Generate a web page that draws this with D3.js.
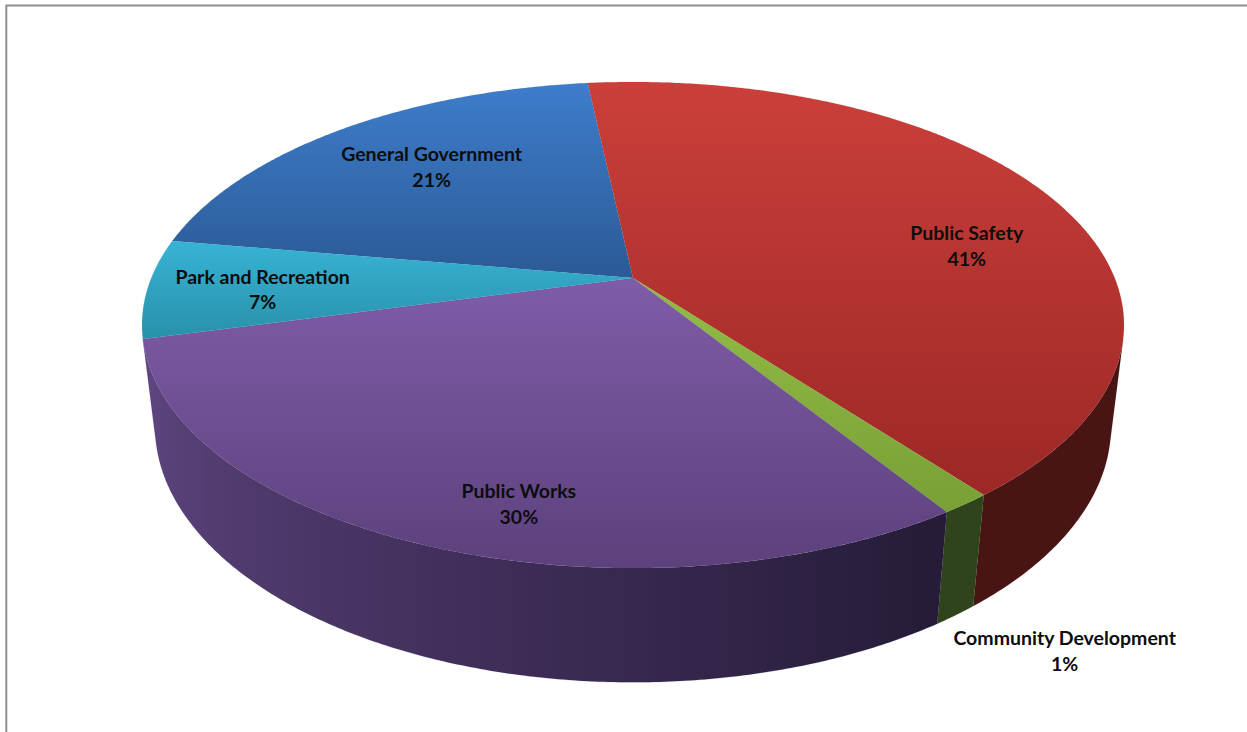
<!DOCTYPE html>
<html>
<head>
<meta charset="utf-8">
<script src="https://cdn.jsdelivr.net/npm/d3@7"></script>
<style>
  html, body { margin: 0; padding: 0; background: #ffffff; overflow: hidden; }
  text { font-family: "Lato", "Open Sans", sans-serif; font-weight: 700; }
</style>
</head>
<body>
<svg id="chart" width="1247" height="732"></svg>
<script>
// Budget share by department (percent of total)
const categories = ["General Government", "Public Safety", "Community Development", "Public Works", "Park and Recreation"];
const shares = [20.6, 41.2, 1.4, 30.2, 6.6];

// Top-face gradient colours (light at top, darker at bottom) and side-wall colours
const topLight = ["#3e7dcc", "#cb3f3a", "#93bd46", "#7f5ca8", "#38b3d5"];
const topDark  = ["#2b5a95", "#9c2826", "#78a036", "#5c417c", "#2891aa"];
const sideDark  = ["#1f3f69", "#481514", "#2f441b", "#261c39", "#1c5f70"];
const sideLight = ["#1f3f69", "#4b1716", "#2f441b", "#5e4580", "#1c5f70"];

// Label placement: fraction of radius, angular nudge (deg), and which face
const labelSpots = [
  { r: 0.694, nudge: 2.0,  face: "top" },
  { r: 0.725, nudge: 11.2, face: "top" },
  { r: 1.191, nudge: -4.1, face: "bottom" },
  { r: 0.838, nudge: -7.5, face: "top" },
  { r: 0.763, nudge: -1.3, face: "top" }
];

const width = 1247, height = 732;
const svg = d3.select("#chart");
const defs = svg.append("defs");

// Chart-area frame
svg.append("rect")
  .attr("x", 6.3).attr("y", 5.5)
  .attr("width", width + 20).attr("height", height + 20)
  .attr("fill", "none").attr("stroke", "#8f8f8f").attr("stroke-width", 2);

// Perspective camera looking down on a flat cylinder
const tilt = Math.asin(0.4857);
const camDist = 1, radius = 0.2214, thickness = 0.054, focal = 2175.7;
const cx = 633, cy = 278;
const rad = d => d * Math.PI / 180;
const deg = r => r * 180 / Math.PI;

// angle a: clockwise from the far side; h: height (0 = top face)
function project(a, r, h) {
  const x = r * Math.sin(a), z = -r * Math.cos(a);
  const d = camDist - (h * Math.sin(tilt) + z * Math.cos(tilt));
  return [cx + focal * x / d, cy - focal * (h * Math.cos(tilt) - z * Math.sin(tilt)) / d];
}

const startDeg = -80.6;
const pie = d3.pie().sort(null).value(d => d)
  .startAngle(rad(startDeg)).endAngle(rad(startDeg + 360));
const arcs = pie(shares);

const line = d3.line();

// Outer wall is visible where its normal faces the camera
const visMin = Math.acos(-radius / (camDist * Math.cos(tilt)));
const visMax = 2 * Math.PI - visMin;

const walls = svg.append("g").attr("class", "walls");
arcs.forEach((s, i) => {
  const a0 = Math.max(s.startAngle, visMin), a1 = Math.min(s.endAngle, visMax);
  if (a1 <= a0) return;
  const n = Math.max(2, Math.ceil(deg(a1 - a0) / 0.5));
  const angles = d3.range(n + 1).map(k => a0 + (a1 - a0) * k / n);
  const topRim = angles.map(a => project(a, radius, 0));
  const botRim = angles.map(a => project(a, radius, -thickness)).reverse();

  // horizontal shading: brighter toward the left-hand side of the cylinder
  const shade = d3.interpolateRgb(sideDark[i], sideLight[i]);
  const xs = topRim.map(p => p[0]);
  const xMin = d3.min(xs), xMax = d3.max(xs);
  const gid = "wallGrad" + i;
  const g = defs.append("linearGradient").attr("id", gid)
    .attr("gradientUnits", "userSpaceOnUse")
    .attr("x1", xMin).attr("y1", 0).attr("x2", xMax + 0.01).attr("y2", 0);
  angles.map((a, k) => ({ x: xs[k], a }))
    .sort((p, q) => p.x - q.x)
    .forEach(p => {
      const t = Math.max(0, Math.min(1, (deg(p.a) - 150) / 100));
      g.append("stop")
        .attr("offset", (xMax > xMin ? (p.x - xMin) / (xMax - xMin) : 0))
        .attr("stop-color", shade(t));
    });

  walls.append("path")
    .attr("d", line(topRim.concat(botRim)) + "Z")
    .attr("fill", `url(#${gid})`)
    .attr("stroke", sideDark[i]).attr("stroke-width", 0.3).attr("stroke-opacity", 0.4);
});

// Top faces with per-slice vertical gradients
const tops = svg.append("g").attr("class", "tops");
arcs.forEach((s, i) => {
  const gid = "topGrad" + i;
  const g = defs.append("linearGradient").attr("id", gid)
    .attr("x1", 0).attr("y1", 0).attr("x2", 0).attr("y2", 1);
  g.append("stop").attr("offset", "0%").attr("stop-color", topLight[i]);
  g.append("stop").attr("offset", "100%").attr("stop-color", topDark[i]);

  const n = Math.max(2, Math.ceil(deg(s.endAngle - s.startAngle) / 0.5));
  const pts = [project(0, 0, 0)].concat(
    d3.range(n + 1).map(k => project(s.startAngle + (s.endAngle - s.startAngle) * k / n, radius, 0))
  );
  tops.append("path")
    .attr("d", line(pts) + "Z")
    .attr("fill", `url(#${gid})`)
    .attr("stroke", topDark[i]).attr("stroke-width", 0.3).attr("stroke-opacity", 0.3);
});

// Data labels: category name and rounded percentage
const total = d3.sum(shares);
const pct = v => Math.round(v / total * 100) + "%";
const labels = svg.append("g").attr("class", "labels");
arcs.forEach((s, i) => {
  const spot = labelSpots[i];
  const mid = (s.startAngle + s.endAngle) / 2 + rad(spot.nudge);
  const [lx, ly] = project(mid, radius * spot.r, spot.face === "top" ? 0 : -thickness);
  const t = labels.append("text")
    .attr("text-anchor", "middle")
    .attr("font-size", 19.5)
    .attr("fill", "#0d0d0d");
  t.append("tspan").attr("x", lx).attr("y", ly - 6.2).text(categories[i]);
  t.append("tspan").attr("x", lx).attr("y", ly + 19.5).text(pct(s.data));
});
</script>
</body>
</html>
